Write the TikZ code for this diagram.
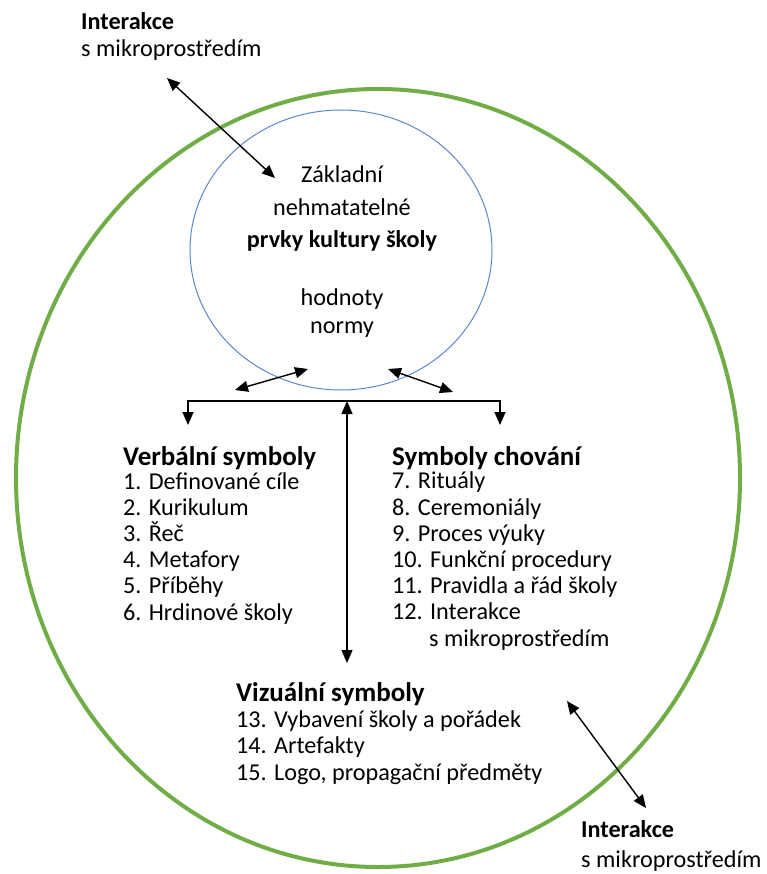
\documentclass[tikz,border=0pt]{standalone}
\usepackage{fontspec}
\setmainfont{Carlito}
\usetikzlibrary{arrows.meta,positioning}

\definecolor{outergreen}{RGB}{112,173,71}
\definecolor{coreblue}{RGB}{91,135,210}

\begin{document}
\begin{tikzpicture}[
  x=1pt, y=-1pt,
  % base anchor of a multi-line node = baseline of its last line
  lbl/.style={inner sep=0pt, anchor=base west, align=left,
              font=\fontsize{24.2}{26.2}\selectfont},
  head/.style={lbl, font=\fontsize{27}{26.2}\selectfont\bfseries},
  core/.style={inner sep=0pt, anchor=base, align=center,
               font=\fontsize{24.2}{32.5}\selectfont},
  arr/.style={-{Triangle[length=13pt, width=11pt]}, line width=1.4pt},
  darr/.style={{Triangle[length=13pt, width=11pt]}-{Triangle[length=13pt, width=11pt]}, line width=1.4pt},
]
  \useasboundingbox (0,0) rectangle (766,874);

  % Ellipses
  \draw[outergreen, line width=4pt] (378,478) ellipse [x radius=362, y radius=389];
  \draw[coreblue, line width=1pt] (341,250) ellipse [x radius=151, y radius=140];

  % Core of the culture
  \node[core] (zakl) at (342,248) {Základní\\nehmatatelné\\\textbf{prvky kultury školy}};
  \node[core, font=\fontsize{24.2}{28}\selectfont] (hodn) at (342,333) {hodnoty\\normy};

  % Interactions with surroundings
  \node[lbl, font=\fontsize{24.2}{27}\selectfont] (intTop) at (81,57) {\textbf{Interakce}\\s mikroprostředím};
  \node[lbl] (intBot) at (581,867) {\textbf{Interakce}\\[3.5pt]s mikroprostředím};

  % Verbal symbols
  \node[head] (verbH) at (123,465) {Verbální symboly};
  \node[lbl] (verbL) at (123,620) {1. Definované cíle\\2. Kurikulum\\3. Řeč\\4. Metafory\\5. Příběhy\\6. Hrdinové školy};

  % Behaviour symbols
  \node[head] (behH) at (392,465) {Symboly chování};
  \node[lbl] (behL) at (392,646) {7. Rituály\\8. Ceremoniály\\9. Proces výuky\\10. Funkční procedury\\11. Pravidla a řád školy\\12. Interakce\\\hspace*{37pt}s mikroprostředím};

  % Visual symbols
  \node[head] (visH) at (236,701) {Vizuální symboly};
  \node[lbl] (visL) at (236,780) {13. Vybavení školy a pořádek\\14. Artefakty\\15. Logo, propagační předměty};

  % Connector points
  \coordinate (topA) at (167,78);
  \coordinate (topB) at (275,178);
  \coordinate (botA) at (567,701);
  \coordinate (botB) at (646,808);
  \coordinate (leftA) at (235,390);
  \coordinate (leftB) at (308,369);
  \coordinate (rightA) at (388,369);
  \coordinate (rightB) at (453,392);
  \coordinate (busL) at (188,401);
  \coordinate (busM) at (347,401);
  \coordinate (busR) at (500,401);
  \coordinate (verbTip) at (188,425);
  \coordinate (behTip) at (500,425);
  \coordinate (visTip) at (347,663);

  % Arrows
  \draw[darr] (topA) -- (topB);
  \draw[darr] (botA) -- (botB);
  \draw[darr] (leftA) -- (leftB);
  \draw[darr] (rightA) -- (rightB);
  \draw[arr] (busM) -- (busL) -- (verbTip);
  \draw[arr] (busM) -- (busR) -- (behTip);
  \draw[darr] (visTip) -- (busM);
\end{tikzpicture}
\end{document}
